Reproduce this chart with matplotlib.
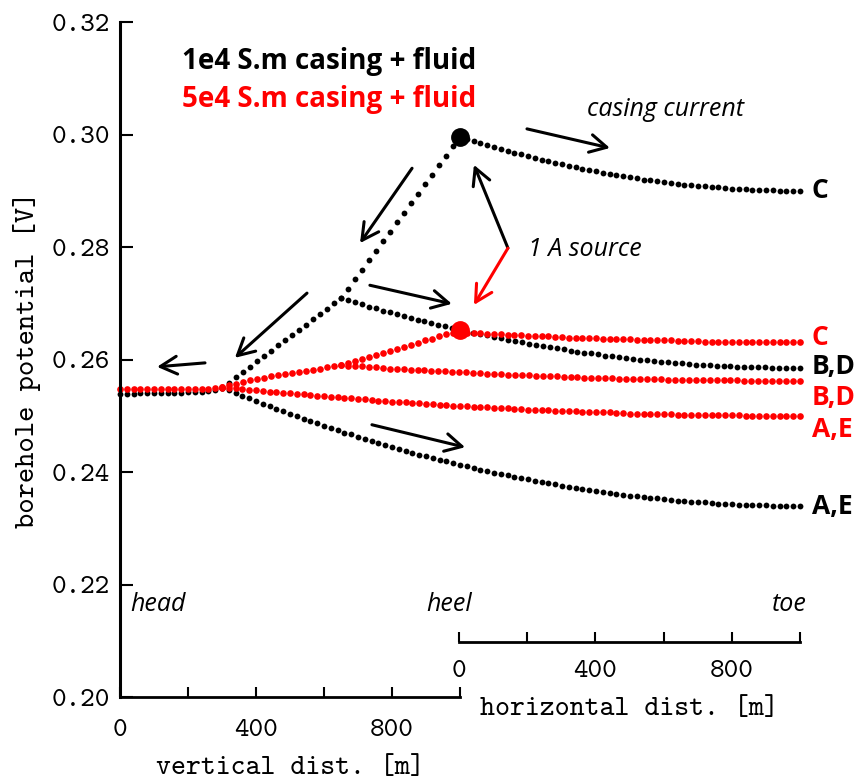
import numpy as np
import matplotlib
matplotlib.use("Agg")
import matplotlib.pyplot as plt

plt.rcParams['font.family'] = ['cmtt10', 'DejaVu Sans']

# distance along the well [m]: 0-1000 vertical section, 1000-2000 laterals
vert_x = np.arange(0, 301, 20)
rise_x = np.linspace(300, 1000, 35)
c_x = np.linspace(1000, 2000, 51)
bd_x = np.linspace(650, 2000, 67)
ae_x = np.linspace(300, 2000, 86)

# 1e4 S.m casing + fluid
blk_vert = [0.2539, 0.2539, 0.2539, 0.2540, 0.2540, 0.2540, 0.2540, 0.2541,
            0.2541, 0.2541, 0.2542, 0.2542, 0.2543, 0.2544, 0.2546, 0.2550]
blk_rise = [0.2550, 0.2559, 0.2569, 0.2578, 0.2587, 0.2597, 0.2606, 0.2615,
            0.2625, 0.2634, 0.2644, 0.2653, 0.2662, 0.2672, 0.2681, 0.2690,
            0.2700, 0.2709, 0.2726, 0.2743, 0.2760, 0.2777, 0.2793, 0.2810,
            0.2827, 0.2844, 0.2861, 0.2878, 0.2895, 0.2912, 0.2928, 0.2945,
            0.2962, 0.2979, 0.2996]
blk_c = [0.2996, 0.2992, 0.2989, 0.2985, 0.2981, 0.2978, 0.2974, 0.2971, 0.2968, 0.2965,
         0.2961, 0.2958, 0.2955, 0.2953, 0.2950, 0.2947, 0.2944, 0.2942, 0.2939, 0.2937,
         0.2935, 0.2932, 0.2930, 0.2928, 0.2926, 0.2924, 0.2922, 0.2920, 0.2919, 0.2917,
         0.2915, 0.2914, 0.2912, 0.2911, 0.2910, 0.2909, 0.2908, 0.2907, 0.2906, 0.2905,
         0.2904, 0.2903, 0.2903, 0.2902, 0.2901, 0.2901, 0.2901, 0.2900, 0.2900, 0.2900,
         0.2900]
blk_bd = [0.2709, 0.2705, 0.2702, 0.2698, 0.2694, 0.2691, 0.2687, 0.2684, 0.2681, 0.2677,
          0.2674, 0.2671, 0.2668, 0.2665, 0.2662, 0.2659, 0.2656, 0.2653, 0.2651, 0.2648,
          0.2645, 0.2643, 0.2640, 0.2638, 0.2635, 0.2633, 0.2631, 0.2628, 0.2626, 0.2624,
          0.2622, 0.2620, 0.2618, 0.2616, 0.2614, 0.2612, 0.2611, 0.2609, 0.2607, 0.2606,
          0.2604, 0.2603, 0.2601, 0.2600, 0.2599, 0.2598, 0.2596, 0.2595, 0.2594, 0.2593,
          0.2592, 0.2591, 0.2591, 0.2590, 0.2589, 0.2588, 0.2588, 0.2587, 0.2587, 0.2586,
          0.2586, 0.2586, 0.2585, 0.2585, 0.2585, 0.2585, 0.2585]
blk_ae = [0.2550, 0.2545, 0.2540, 0.2535, 0.2531, 0.2526, 0.2521, 0.2517, 0.2512, 0.2508,
          0.2504, 0.2499, 0.2495, 0.2491, 0.2487, 0.2482, 0.2478, 0.2474, 0.2470, 0.2467,
          0.2463, 0.2459, 0.2455, 0.2452, 0.2448, 0.2445, 0.2441, 0.2438, 0.2434, 0.2431,
          0.2428, 0.2425, 0.2422, 0.2419, 0.2416, 0.2413, 0.2410, 0.2407, 0.2404, 0.2402,
          0.2399, 0.2396, 0.2394, 0.2391, 0.2389, 0.2387, 0.2384, 0.2382, 0.2380, 0.2378,
          0.2376, 0.2374, 0.2372, 0.2370, 0.2368, 0.2366, 0.2364, 0.2363, 0.2361, 0.2360,
          0.2358, 0.2357, 0.2355, 0.2354, 0.2353, 0.2352, 0.2350, 0.2349, 0.2348, 0.2347,
          0.2347, 0.2346, 0.2345, 0.2344, 0.2344, 0.2343, 0.2342, 0.2342, 0.2341, 0.2341,
          0.2341, 0.2340, 0.2340, 0.2340, 0.2340, 0.2340]

# 5e4 S.m casing + fluid
red_vert = [0.2547, 0.2547, 0.2547, 0.2547, 0.2547, 0.2547, 0.2547, 0.2547,
            0.2547, 0.2547, 0.2547, 0.2547, 0.2548, 0.2548, 0.2549, 0.2550]
red_rise = [0.2551, 0.2554, 0.2557, 0.2560, 0.2563, 0.2565, 0.2568, 0.2570,
            0.2572, 0.2574, 0.2576, 0.2578, 0.2580, 0.2582, 0.2584, 0.2586,
            0.2588, 0.2590, 0.2594, 0.2597, 0.2601, 0.2605, 0.2608, 0.2612,
            0.2616, 0.2619, 0.2623, 0.2626, 0.2630, 0.2634, 0.2637, 0.2641,
            0.2645, 0.2648, 0.2652]
red_c = [0.2649, 0.2648, 0.2648, 0.2647, 0.2646, 0.2646, 0.2645, 0.2644, 0.2644, 0.2643,
         0.2642, 0.2642, 0.2641, 0.2641, 0.2640, 0.2640, 0.2639, 0.2639, 0.2638, 0.2638,
         0.2638, 0.2637, 0.2637, 0.2636, 0.2636, 0.2636, 0.2635, 0.2635, 0.2635, 0.2634,
         0.2634, 0.2634, 0.2633, 0.2633, 0.2633, 0.2633, 0.2632, 0.2632, 0.2632, 0.2632,
         0.2632, 0.2632, 0.2631, 0.2631, 0.2631, 0.2631, 0.2631, 0.2631, 0.2631, 0.2631,
         0.2631]
red_bd = [0.2590, 0.2589, 0.2588, 0.2588, 0.2587, 0.2586, 0.2585, 0.2584, 0.2584, 0.2583,
          0.2582, 0.2581, 0.2581, 0.2580, 0.2579, 0.2579, 0.2578, 0.2577, 0.2577, 0.2576,
          0.2576, 0.2575, 0.2574, 0.2574, 0.2573, 0.2573, 0.2572, 0.2572, 0.2571, 0.2571,
          0.2570, 0.2570, 0.2569, 0.2569, 0.2569, 0.2568, 0.2568, 0.2567, 0.2567, 0.2567,
          0.2566, 0.2566, 0.2566, 0.2565, 0.2565, 0.2565, 0.2565, 0.2564, 0.2564, 0.2564,
          0.2564, 0.2563, 0.2563, 0.2563, 0.2563, 0.2563, 0.2563, 0.2563, 0.2562, 0.2562,
          0.2562, 0.2562, 0.2562, 0.2562, 0.2562, 0.2562, 0.2562]
red_ae = [0.2551, 0.2550, 0.2549, 0.2547, 0.2546, 0.2545, 0.2544, 0.2543, 0.2542, 0.2541,
          0.2540, 0.2539, 0.2538, 0.2537, 0.2536, 0.2535, 0.2534, 0.2533, 0.2532, 0.2531,
          0.2530, 0.2529, 0.2528, 0.2527, 0.2526, 0.2525, 0.2525, 0.2524, 0.2523, 0.2522,
          0.2521, 0.2521, 0.2520, 0.2519, 0.2518, 0.2518, 0.2517, 0.2516, 0.2516, 0.2515,
          0.2514, 0.2514, 0.2513, 0.2512, 0.2512, 0.2511, 0.2511, 0.2510, 0.2510, 0.2509,
          0.2509, 0.2508, 0.2508, 0.2507, 0.2507, 0.2506, 0.2506, 0.2506, 0.2505, 0.2505,
          0.2504, 0.2504, 0.2504, 0.2503, 0.2503, 0.2503, 0.2503, 0.2502, 0.2502, 0.2502,
          0.2502, 0.2501, 0.2501, 0.2501, 0.2501, 0.2501, 0.2501, 0.2500, 0.2500, 0.2500,
          0.2500, 0.2500, 0.2500, 0.2500, 0.2500, 0.2500]

# source injection point (at the heel)
src_x = 1000
src_blk = 0.2996
src_red = 0.2652

fig = plt.figure(figsize=(8.6, 7.81), dpi=100)
ax = fig.add_axes([120 / 860, 84 / 781, 680 / 860, 675 / 781])
ax.set_xlim(0, 2000)
ax.set_ylim(0.20, 0.32)

blk = dict(ls='none', marker='o', ms=4.2, mew=0, color='black', clip_on=False)
red = dict(ls='none', marker='o', ms=4.8, mew=0, color='red', clip_on=False)

ax.plot(vert_x, blk_vert, **blk)
ax.plot(rise_x, blk_rise, **blk)
ax.plot(c_x, blk_c, **blk)
ax.plot(bd_x, blk_bd, **blk)
ax.plot(ae_x, blk_ae, **blk)
ax.plot(src_x, src_blk, 'o', ms=12.5, color='black')

ax.plot(vert_x, red_vert, **red)
ax.plot(rise_x, red_rise, **red)
ax.plot(c_x, red_c, **red)
ax.plot(bd_x, red_bd, **red)
ax.plot(ae_x, red_ae, **red)
ax.plot(src_x, src_red, 'o', ms=12.5, color='red')

# axes styling
for s in ['top', 'right']:
    ax.spines[s].set_visible(False)
ax.spines['left'].set_linewidth(2.2)
ax.spines['bottom'].set_linewidth(2.0)
ax.spines['bottom'].set_bounds(0, 1000)
ax.set_yticks(np.arange(0.20, 0.321, 0.02))
ax.set_yticklabels(['%.2f' % v for v in np.arange(0.20, 0.321, 0.02)])
ax.set_xticks([0, 400, 800])
ax.set_xticks([200, 600, 1000], minor=True)
ax.set_xticklabels(['0', '400', '800'])
ax.tick_params(axis='y', direction='in', length=9, width=1.5, pad=7, labelsize=20)
ax.tick_params(axis='x', which='both', direction='in', length=7, width=1.5,
               pad=16, labelsize=20)
ax.set_ylabel('borehole potential [V]', fontsize=21, labelpad=8)
ax.set_xlabel('vertical dist. [m]', fontsize=20.5, labelpad=10, x=0.25)

# second axis for the lateral sections
ax2 = fig.add_axes([459 / 860, 139 / 781, 341 / 860, 0.0001])
ax2.set_xlim(0, 1000)
ax2.patch.set_visible(False)
for s in ['top', 'right', 'left']:
    ax2.spines[s].set_visible(False)
ax2.spines['bottom'].set_linewidth(2.0)
ax2.set_yticks([])
ax2.set_xticks([0, 400, 800])
ax2.set_xticks([200, 600, 1000], minor=True)
ax2.set_xticklabels(['0', '400', '800'])
ax2.tick_params(axis='x', which='both', direction='in', length=7, width=1.5,
                pad=13, labelsize=20)
ax2.set_xlabel('horizontal dist. [m]', fontsize=20.5, labelpad=10, x=0.5)

# legend text
sans = ['Open Sans', 'DejaVu Sans']
ax.text(183, 0.3129, '1e4 S.m casing + fluid', color='black', fontsize=20,
        fontweight='bold', family=sans, va='center')
ax.text(183, 0.3063, '5e4 S.m casing + fluid', color='red', fontsize=20,
        fontweight='bold', family=sans, va='center')

# lateral labels
lab = dict(fontsize=19, fontweight='bold', family=sans, va='center', ha='left')
ax.text(2035, 0.2901, 'C', color='black', **lab)
ax.text(2035, 0.2640, 'C', color='red', **lab)
ax.text(2035, 0.2587, 'B,D', color='black', **lab)
ax.text(2035, 0.2532, 'B,D', color='red', **lab)
ax.text(2035, 0.2475, 'A,E', color='red', **lab)
ax.text(2035, 0.2338, 'A,E', color='black', **lab)

it = dict(fontsize=18, style='italic', family=sans, va='center')
ax.text(1603, 0.3044, 'casing current', ha='center', **it)
ax.text(1200, 0.2795, '1 A source', ha='left', **it)
ax.text(29, 0.2164, 'head', ha='left', **it)
ax.text(968, 0.2164, 'heel', ha='center', **it)
ax.text(1968, 0.2164, 'toe', ha='center', **it)

# current direction arrows
arrows = [((250, 0.2594), (109, 0.2587), 'black'),
          ((550, 0.2718), (338, 0.2603), 'black'),
          ((859, 0.2940), (706, 0.2807), 'black'),
          ((735, 0.2732), (976, 0.2699), 'black'),
          ((741, 0.2484), (1015, 0.2444), 'black'),
          ((1197, 0.3010), (1441, 0.2976), 'black'),
          ((1141, 0.2798), (1041, 0.2946), 'black'),
          ((1141, 0.2798), (1041, 0.2697), 'red')]
for tail, tip, col in arrows:
    ax.annotate('', xy=tip, xytext=tail,
                arrowprops=dict(arrowstyle='->,head_length=0.6,head_width=0.32',
                                lw=2.2, color=col, shrinkA=0, shrinkB=0,
                                mutation_scale=20))

fig.savefig('out.png', dpi=100)
